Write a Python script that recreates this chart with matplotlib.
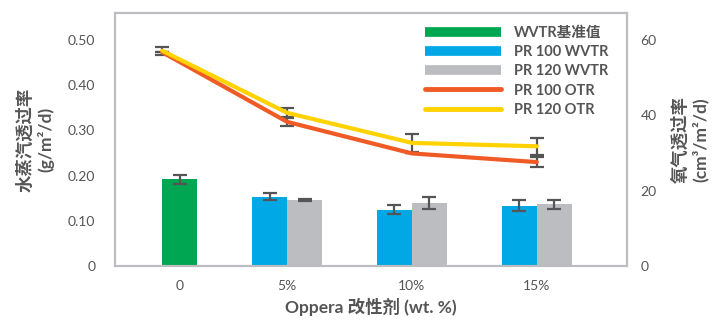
import matplotlib
matplotlib.use("Agg")
import matplotlib.pyplot as plt
from matplotlib.lines import Line2D
import numpy as np

plt.rcParams["font.family"] = ["Lato", "Noto Sans CJK SC", "DejaVu Sans"]

# ---- data ----
categories = ["0", "5%", "10%", "15%"]
wvtr_base = [0.192]                      # only at 0
wvtr_base_err = [0.010]
pr100_wvtr = [0.153, 0.124, 0.133]       # 5%, 10%, 15%
pr100_wvtr_err = [0.008, 0.010, 0.012]
pr120_wvtr = [0.146, 0.140, 0.137]
pr120_wvtr_err = [0.002, 0.013, 0.010]
pr100_otr = [56.8, 38.3, 29.9, 27.6]
pr100_otr_err = [0.0, 1.0, 0.0, 1.3]
pr120_otr = [57.2, 40.7, 32.7, 31.8]
pr120_otr_err = [1.1, 1.2, 2.3, 2.2]

GREEN = "#00A651"
BLUE = "#00A9E6"
GRAY = "#BCBDC0"
RED = "#F05A24"
YELLOW = "#FFD200"
TXT = "#555555"
ERR = "#555555"

fig = plt.figure(figsize=(7.13, 3.2), dpi=100)
ax = fig.add_axes([0.161, 0.169, 0.718, 0.79])
ax2 = ax.twinx()

x = np.arange(len(categories))
w = 0.28
err_kw = dict(ecolor=ERR, elinewidth=1.6, capsize=5, capthick=1.6)

ax.bar(x[0] + w / 2, wvtr_base, w, yerr=wvtr_base_err, color=GREEN,
       error_kw=err_kw, zorder=2)
ax.bar(x[1:] - w / 2, pr100_wvtr, w, yerr=pr100_wvtr_err, color=BLUE,
       error_kw=err_kw, zorder=2)
ax.bar(x[1:] + w / 2, pr120_wvtr, w, yerr=pr120_wvtr_err, color=GRAY,
       error_kw=err_kw, zorder=2)

ax2.errorbar(x, pr100_otr, yerr=pr100_otr_err, color=RED, lw=3,
             ecolor=ERR, elinewidth=1.6, capsize=5, capthick=1.6,
             solid_capstyle="round", solid_joinstyle="round")
ax2.errorbar(x, pr120_otr, yerr=pr120_otr_err, color=YELLOW, lw=3,
             ecolor=ERR, elinewidth=1.6, capsize=5, capthick=1.6,
             solid_capstyle="round", solid_joinstyle="round")

ax.set_xlim(-0.38, 3.72)
ax.set_ylim(0, 0.56)
ax2.set_ylim(0, 67.2)

ax.set_xticks([x[0] + w / 2, 1, 2, 3])
ax.set_xticklabels(categories)
ax.set_yticks([0, 0.1, 0.2, 0.3, 0.4, 0.5])
ax.set_yticklabels(["0", "0.10", "0.20", "0.30", "0.40", "0.50"])
ax2.set_yticks([0, 20, 40, 60])

for a in (ax, ax2):
    a.tick_params(length=0, labelsize=10, labelcolor=TXT, pad=8)
    for s in a.spines.values():
        s.set_color(GRAY)
        s.set_linewidth(1.5)
ax.tick_params(axis="x", pad=10)
ax.tick_params(axis="y", pad=14)
ax2.tick_params(axis="y", pad=10)

ax.set_xlabel("Oppera 改性剂 (wt. %)", fontsize=12.5, fontweight="bold",
              color=TXT, labelpad=4)
ax.set_ylabel("水蒸汽透过率\n(g/m²/d)", fontsize=12.5, fontweight="bold",
              color=TXT, linespacing=1.3, labelpad=10)
ax2.set_ylabel("氧气透过率\n(cm³/m²/d)", fontsize=12.5, fontweight="bold",
               color=TXT, linespacing=1.3, labelpad=10)

handles = [
    Line2D([], [], color=GREEN, lw=7, solid_capstyle="butt"),
    Line2D([], [], color=BLUE, lw=7, solid_capstyle="butt"),
    Line2D([], [], color=GRAY, lw=7, solid_capstyle="butt"),
    Line2D([], [], color=RED, lw=3.5, solid_capstyle="round"),
    Line2D([], [], color=YELLOW, lw=3.5, solid_capstyle="round"),
]
labels = ["WVTR基准值", "PR 100 WVTR", "PR 120 WVTR", "PR 100 OTR", "PR 120 OTR"]
leg = ax2.legend(handles, labels, loc="upper right", frameon=False,
                 fontsize=10.5, handlelength=5.2, handletextpad=0.9,
                 labelspacing=0.35, borderaxespad=0.5,
                 bbox_to_anchor=(0.99, 1.0))
for t in leg.get_texts():
    t.set_color(TXT)
    t.set_fontweight("bold")

fig.savefig("out.png", dpi=100)
